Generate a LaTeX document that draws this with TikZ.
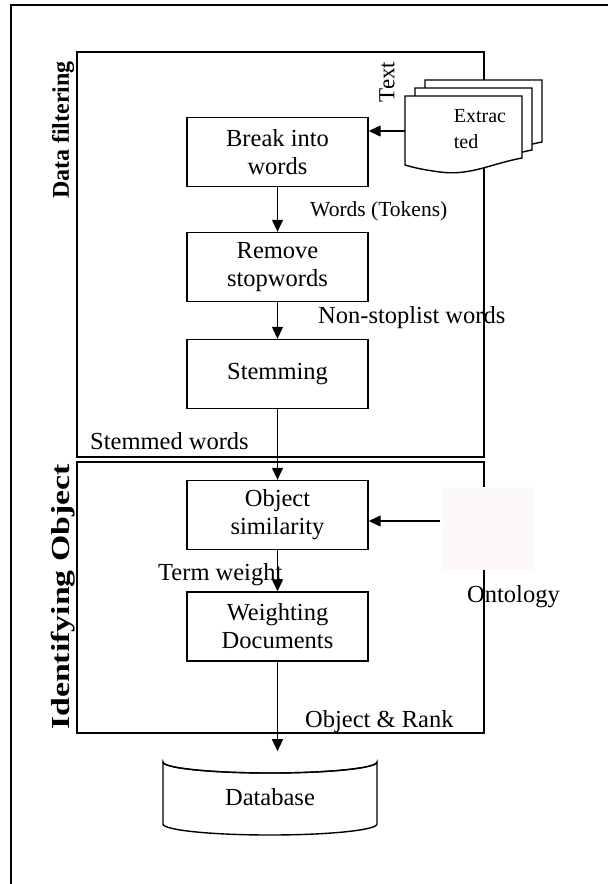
\documentclass[tikz,border=0pt]{standalone}
\usepackage{fontspec}
\setmainfont{Liberation Serif}
\usetikzlibrary{arrows.meta}
\definecolor{faintpink}{RGB}{253,249,249}
\begin{document}
\begin{tikzpicture}[x=1pt,y=-1pt,
  every node/.style={font=\fontsize{24.5}{28}\selectfont},
  procbox/.style={draw,line width=1.4pt,minimum width=181pt,minimum height=69pt,align=center,inner sep=0pt},
  panel/.style={draw,line width=1.6pt},
  sidelabel/.style={rotate=90,inner sep=0pt},
  flow/.style={line width=1.3pt,-{Triangle[width=11pt,length=12pt]}},
  lbl/.style={inner sep=0pt,anchor=west},
  docpage/.style={draw,line width=1.4pt,fill=white}]
\useasboundingbox (0,0) rectangle (608,884);

% outer frame (left and top edges)
\draw[line width=2pt] (11,884) -- (11,5) -- (608,5);

% panels
\draw[panel] (77,52) rectangle (484,457);
\draw[panel] (77,462) rectangle (484,733);
\node[sidelabel,font=\fontsize{24}{28}\selectfont\bfseries] (lblfilter) at (63,130) {Data filtering};
\node[sidelabel,font=\fontsize{26}{28}\selectfont\bfseries] (lblident) at (63,597) {\scalebox{1.3}[1]{Identifying Object}};

% process boxes
\node[procbox] (break) at (277.5,152) {Break into\\words};
\node[procbox] (remove) at (277.5,267) {Remove\\stopwords};
\node[procbox] (stem) at (277.5,374) {Stemming};
\node[procbox] (objsim) at (277.5,515) {Object\\similarity};
\node[procbox] (weight) at (277.5,626.5) {Weighting\\Documents};

% stacked extracted-text documents
\foreach \dx/\dy in {20/-16,10/-8,0/0}{
  \draw[docpage] (405+\dx,96+\dy) -- (522+\dx,96+\dy) -- (522+\dx,158+\dy)
    .. controls (490+\dx,164+\dy) and (470+\dx,176+\dy) .. (440+\dx,172+\dy)
    .. controls (425+\dx,170+\dy) and (415+\dx,168+\dy) .. (405+\dx,165+\dy) -- cycle;
}
\node[align=left,font=\fontsize{20}{26}\selectfont,inner sep=0pt] (extr) at (480,129) {Extrac\\ted};
\coordinate (docin) at (405,131);
\node[rotate=90,inner sep=0pt,font=\fontsize{23}{26}\selectfont] (textlbl) at (387,82) {Text};

% ontology
\node[fill=faintpink,minimum width=90pt,minimum height=83pt,inner sep=0pt] (onto) at (488,528) {};
\node[lbl] (ontolbl) at (467,597) {Ontology};
\coordinate (ontoin) at (440,521);

% database
\coordinate (dbtop) at (277.5,751.2);
\draw[line width=1.4pt,fill=white] (163,762) -- (163,824)
  arc[start angle=180,end angle=360,x radius=107pt,y radius=11pt] -- (377,762)
  arc[start angle=0,end angle=-180,x radius=107pt,y radius=11pt] -- cycle;
\draw[line width=1.4pt] (163,762) arc[start angle=180,end angle=360,x radius=107pt,y radius=11pt];
\node (db) at (270,797) {Database};

% connectors
\draw[flow] (docin) -- (docin -| break.east);
\draw[flow] (break) -- (remove);
\draw[flow] (remove) -- (stem);
\draw[flow] (stem) -- (objsim);
\draw[flow] (ontoin) -- (ontoin -| objsim.east);
\draw[flow] (objsim) -- (weight);
\draw[flow] (weight.south) -- (dbtop);

% connector labels
\node[lbl,font=\fontsize{21.5}{24}\selectfont] (l1) at (310,211) {Words (Tokens)};
\node[lbl] (l2) at (318,318) {Non-stoplist words};
\node[lbl] (l3) at (90,441) {Stemmed words};
\node[lbl] (l4) at (158,575) {Term weight};
\node[lbl] (l5) at (305,722) {Object \& Rank};
\end{tikzpicture}
\end{document}
